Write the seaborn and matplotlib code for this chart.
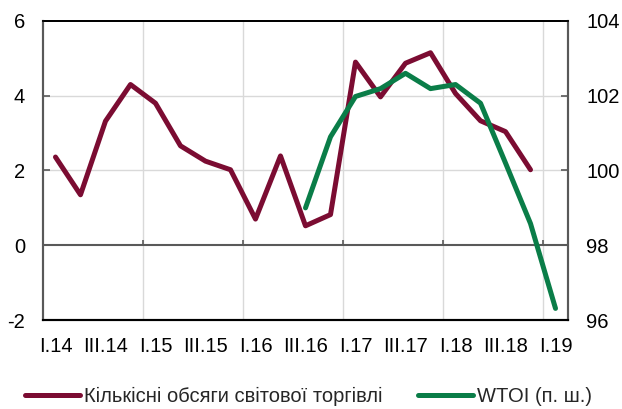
import numpy as np
import pandas as pd
import matplotlib
matplotlib.use("Agg")
import matplotlib.pyplot as plt
import seaborn as sns

# Дані (квартали I.14 ... I.19)
quarters = [f"{q}.{y}" for y in range(14, 19) for q in ["I", "II", "III", "IV"]] + ["I.19"]
trade_volume = [2.36, 1.35, 3.32, 4.30, 3.80, 2.66, 2.25, 2.02, 0.70, 2.39,
                0.52, 0.82, 4.90, 3.97, 4.87, 5.15, 4.06, 3.33, 3.04, 2.02]
wtoi_start = "III.16"
wtoi = [99.0, 100.9, 101.98, 102.19, 102.6, 102.19, 102.3, 101.8, 100.2, 98.58, 96.31]

label_trade = "Кількісні обсяги світової торгівлі"
label_wtoi = "WTOI (п. ш.)"
tick_labels = quarters[::2]

maroon = "#7B0C32"
green = "#0A7D48"

df_trade = pd.DataFrame({"pos": np.arange(len(trade_volume)), "value": trade_volume})
i0 = quarters.index(wtoi_start)
df_wtoi = pd.DataFrame({"pos": np.arange(i0, i0 + len(wtoi)), "value": wtoi})

sns.set_theme(style="white")
plt.rcParams["font.family"] = ["Liberation Sans", "DejaVu Sans"]
plt.rcParams["font.size"] = 14.5
plt.rcParams["axes.unicode_minus"] = False

fig = plt.figure(figsize=(6.22, 4.09), dpi=100)
ax = fig.add_axes([0.0691, 0.2176, 0.8441, 0.7311])
ax2 = ax.twinx()

# сітка
for yv in [2, 4]:
    ax.axhline(yv, color="#D9D9D9", lw=1.0, zorder=0)
for xv in np.arange(3.5, len(quarters) - 1, 4):
    ax.axvline(xv, color="#D9D9D9", lw=1.0, zorder=0)
    ax.vlines(xv, 0, 0.13, color="#595959", lw=1.2, zorder=1)
ax.axhline(0, color="#595959", lw=1.5, zorder=1)

sns.lineplot(data=df_trade, x="pos", y="value", ax=ax, color=maroon, lw=3.6,
             label=label_trade, legend=False, zorder=3)
sns.lineplot(data=df_wtoi, x="pos", y="value", ax=ax2, color=green, lw=3.6,
             label=label_wtoi, legend=False, zorder=3)

ax.set_xlim(-0.5, len(quarters) - 0.5)
ax.set_ylim(-2, 6)
ax2.set_ylim(96, 104)
ax.set_yticks([-2, 0, 2, 4, 6])
ax2.set_yticks([96, 98, 100, 102, 104])
ax.set_xticks(np.arange(0, len(quarters), 2))
ax.set_xticklabels(tick_labels)
ax.set_xlabel("")
ax.set_ylabel("")
ax2.set_ylabel("")

ax.tick_params(axis="x", length=0, pad=12, labelsize=14.5, colors="black")
ax.tick_params(axis="y", direction="in", length=5, width=1.2, color="#595959",
               pad=13, labelsize=14.5, labelcolor="black", left=True)
ax2.tick_params(axis="y", direction="in", length=5, width=1.2, color="#595959",
                pad=13, labelsize=14.5, labelcolor="black", right=True)

for a in (ax, ax2):
    a.spines["top"].set_color("black")
    a.spines["top"].set_linewidth(1.3)
    a.spines["bottom"].set_color("black")
    a.spines["bottom"].set_linewidth(1.5)
    a.spines["left"].set_color("#595959")
    a.spines["left"].set_linewidth(1.5)
    a.spines["right"].set_color("#595959")
    a.spines["right"].set_linewidth(1.5)

h1, l1 = ax.get_legend_handles_labels()
h2, l2 = ax2.get_legend_handles_labels()
fig.legend(h1 + h2, l1 + l2, loc="center", bbox_to_anchor=(0.496, 0.03), ncol=2,
           frameon=False, fontsize=14.5, handlelength=2.75, handletextpad=0.2,
           columnspacing=1.75)

fig.savefig("out.png", dpi=100)
